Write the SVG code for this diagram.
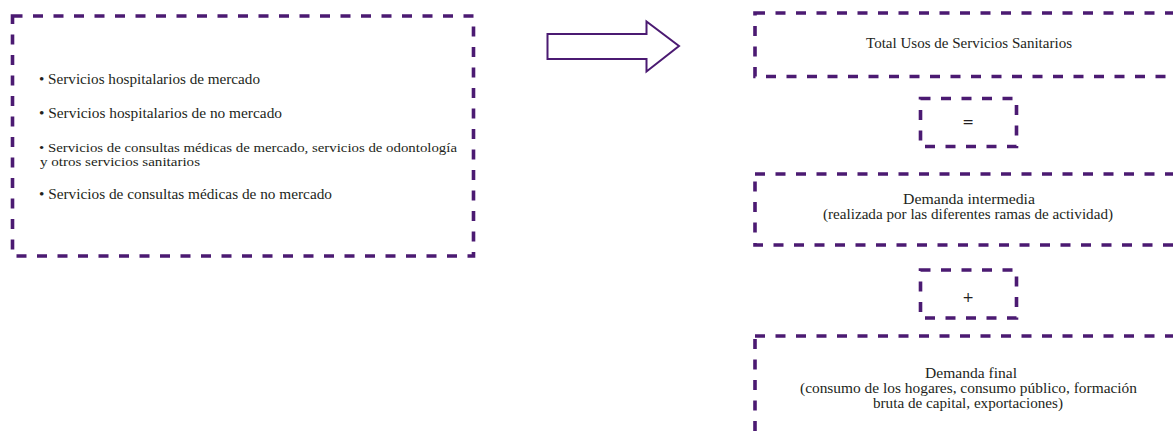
<svg xmlns="http://www.w3.org/2000/svg" width="1173" height="434" viewBox="0 0 1173 434">
<style>
.box{fill:none;stroke:#4b1a72;stroke-width:3.6;stroke-dasharray:10 10.5}
.t{font-family:"Liberation Serif",serif;font-size:14px;fill:#231f20}
.s{font-size:13px}
.c{text-anchor:middle}
.op{font-family:"DejaVu Sans",sans-serif;font-size:14px;fill:#231f20;text-anchor:middle}
.arrow{fill:#fff;stroke:#4b1a72;stroke-width:2}
</style>
<rect width="1173" height="434" fill="#fff"/>
<g id="servicios">
<rect class="box" x="12.5" y="16" width="461" height="240"/>
<text class="t" x="39" y="84" textLength="221" lengthAdjust="spacingAndGlyphs">• Servicios hospitalarios de mercado</text>
<text class="t" x="39" y="118" textLength="243" lengthAdjust="spacingAndGlyphs">• Servicios hospitalarios de no mercado</text>
<text class="t s" x="39" y="152" textLength="418" lengthAdjust="spacingAndGlyphs">• Servicios de consultas médicas de mercado, servicios de odontología</text>
<text class="t s" x="40" y="166" textLength="160" lengthAdjust="spacingAndGlyphs">y otros servicios sanitarios</text>
<text class="t" x="39" y="199" textLength="293" lengthAdjust="spacingAndGlyphs">• Servicios de consultas médicas de no mercado</text>
</g>
<g id="connectors">
<polygon class="arrow" points="547.5,34 646.5,34 646.5,21.5 679,46 646.5,71.5 646.5,59 547.5,59"/>
</g>
<g id="total">
<rect class="box" x="755" y="13" width="440" height="63.5"/>
<text class="t c" x="969" y="48" textLength="206" lengthAdjust="spacingAndGlyphs">Total Usos de Servicios Sanitarios</text>
</g>
<g id="igual">
<rect class="box" x="920.5" y="98.5" width="96" height="48"/>
<text class="op" x="968" y="127">=</text>
</g>
<g id="intermedia">
<rect class="box" x="755" y="174" width="440" height="71"/>
<text class="t c" x="969" y="204" textLength="132" lengthAdjust="spacingAndGlyphs">Demanda intermedia</text>
<text class="t c" x="968" y="219" textLength="290" lengthAdjust="spacingAndGlyphs">(realizada por las diferentes ramas de actividad)</text>
</g>
<g id="mas">
<rect class="box" x="920.5" y="270" width="96" height="48"/>
<text class="op" x="968" y="302">+</text>
</g>
<g id="final">
<rect class="box" x="755" y="336" width="440" height="120"/>
<text class="t c" x="971" y="378" textLength="92" lengthAdjust="spacingAndGlyphs">Demanda final</text>
<text class="t c" x="968.5" y="393" textLength="337" lengthAdjust="spacingAndGlyphs">(consumo de los hogares, consumo público, formación</text>
<text class="t c" x="968" y="408" textLength="190" lengthAdjust="spacingAndGlyphs">bruta de capital, exportaciones)</text>
</g>
</svg>
